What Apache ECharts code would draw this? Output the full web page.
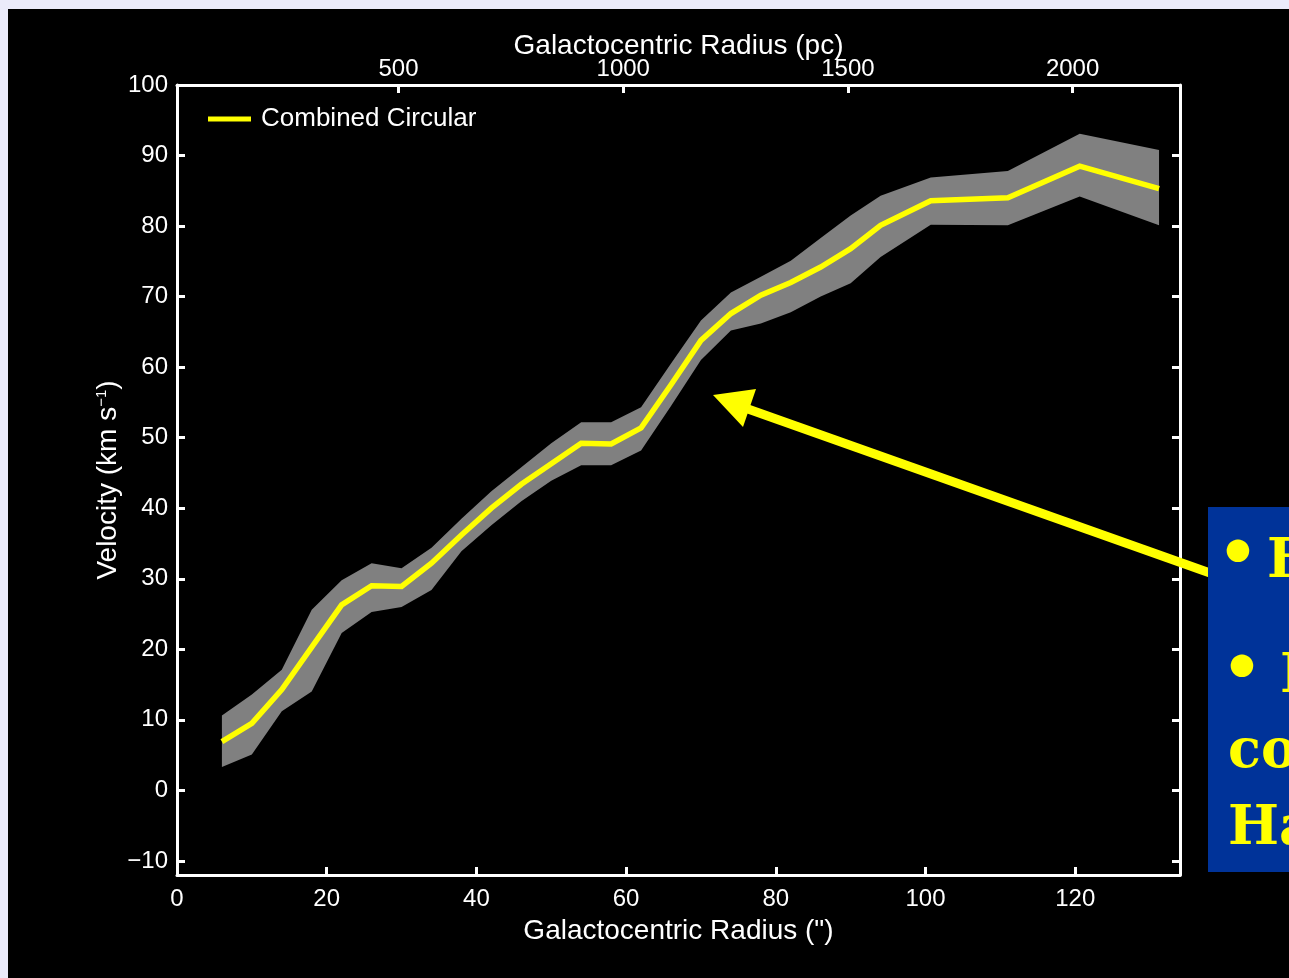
<!DOCTYPE html>
<html>
<head>
<meta charset="utf-8">
<script src="https://cdn.jsdelivr.net/npm/echarts@6/dist/echarts.min.js"></script>
<style>
  html, body { margin: 0; padding: 0; background: #000; }
  #chart { width: 1289px; height: 978px; }
</style>
</head>
<body>
<div id="chart"></div>
<script>
// Rotation curve: galactocentric radius (arcsec) vs circular velocity (km/s)
const radius   = [6, 10, 14, 18, 22, 26, 30, 34, 38, 42, 46, 50, 54, 58, 62, 66, 70, 74, 78, 82, 86, 90, 94, 100.7, 111, 120.6, 131.2];
const velocity = [6.9, 9.5, 14.3, 20.3, 26.3, 29.0, 28.9, 32.2, 36.2, 40.0, 43.4, 46.3, 49.2, 49.1, 51.4, 57.5, 63.8, 67.6, 70.2, 72.0, 74.2, 76.8, 80.1, 83.6, 84.0, 88.5, 85.3];
// Uncertainty envelope
const upper    = [10.6, 13.6, 17.1, 25.6, 29.8, 32.2, 31.5, 34.4, 38.5, 42.4, 45.8, 49.2, 52.2, 52.2, 54.3, 60.5, 66.6, 70.6, 72.8, 75.1, 78.3, 81.5, 84.3, 86.9, 87.8, 93.1, 90.8];
const lower    = [3.3, 5.1, 11.2, 14.0, 22.3, 25.3, 26.0, 28.4, 33.9, 37.6, 41.0, 43.9, 46.1, 46.1, 48.2, 54.5, 61.0, 65.2, 66.2, 67.8, 70.0, 71.9, 75.6, 80.2, 80.1, 84.2, 80.1];

// Tick labels
const arcsecTicks = [0, 20, 40, 60, 80, 100, 120];
const pcTicks = [500, 1000, 1500, 2000];
const velocityTicks = [-10, 0, 10, 20, 30, 40, 50, 60, 70, 80, 90, 100];

// Axis ranges
const X_MIN = 0, X_MAX = 134;
const PC_MIN = 7, PC_MAX = 2239;
const V_MIN = -12, V_MAX = 100;

const FONT = "'Liberation Sans', Arial, Helvetica, sans-serif";
const WHITE = '#ffffff';
const BAND = '#808080';
const CALLOUT_FONT = "bold 54px 'DejaVu Serif', serif";
const BULLET_FONT = "bold 64px 'DejaVu Serif', serif";

const chart = echarts.init(document.getElementById('chart'), null, { renderer: 'canvas' });

const toPairs = (xs, ys) => xs.map((x, i) => [x, ys[i]]);
const bandRows = radius.map((r, i) => [r, upper[i], lower[i]]);

// Envelope drawn as a single closed polygon: upper edge left to right, lower edge back
function renderBand(params, api) {
  if (params.dataIndex !== 0) return null;
  const top = bandRows.map(row => api.coord([row[0], row[1]]));
  const bottom = bandRows.map(row => api.coord([row[0], row[2]])).reverse();
  return {
    type: 'polygon',
    shape: { points: top.concat(bottom) },
    style: { fill: BAND }
  };
}

const axisCommon = {
  axisLine: { show: true, onZero: false, lineStyle: { color: WHITE, width: 3 } },
  splitLine: { show: false },
  nameMoveOverlap: false
};
const tickStyle = { color: WHITE, width: 3 };

const option = {
  backgroundColor: '#000000',
  animation: false,
  textStyle: { fontFamily: FONT, color: WHITE },
  grid: { left: 177, right: 109, top: 85, bottom: 103, containLabel: false },
  legend: {
    data: ['Combined Circular'],
    left: 203,
    top: 101,
    icon: 'rect',
    itemWidth: 43,
    itemHeight: 5,
    textStyle: { color: WHITE, fontSize: 26, fontFamily: FONT, padding: [0, 0, 0, 5] },
    selectedMode: false
  },
  xAxis: [
    Object.assign({}, axisCommon, {
      type: 'value', position: 'bottom', min: X_MIN, max: X_MAX,
      name: 'Galactocentric Radius (")',
      nameLocation: 'middle', nameGap: 42,
      nameTextStyle: { color: WHITE, fontSize: 28, fontFamily: FONT },
      axisTick: { show: true, inside: true, length: 8, lineStyle: tickStyle, customValues: arcsecTicks },
      axisLabel: { color: WHITE, fontSize: 24, fontFamily: FONT, margin: 12, customValues: arcsecTicks }
    }),
    Object.assign({}, axisCommon, {
      type: 'value', position: 'top', min: PC_MIN, max: PC_MAX,
      name: 'Galactocentric Radius (pc)',
      nameLocation: 'middle', nameGap: 25,
      nameTextStyle: { color: WHITE, fontSize: 28, fontFamily: FONT },
      axisTick: { show: true, inside: true, length: 8, lineStyle: tickStyle, customValues: pcTicks },
      axisLabel: { color: WHITE, fontSize: 24, fontFamily: FONT, margin: 4, customValues: pcTicks, formatter: v => String(v) }
    })
  ],
  yAxis: [
    Object.assign({}, axisCommon, {
      type: 'value', position: 'left', min: V_MIN, max: V_MAX,
      name: 'Velocity (km s{sup|\u22121})',
      nameLocation: 'middle', nameGap: 54, nameRotate: 90,
      nameTextStyle: {
        color: WHITE, fontSize: 28, fontFamily: FONT,
        rich: { sup: { fontSize: 15, fontFamily: FONT, color: WHITE, verticalAlign: 'top', padding: [0, 0, 14, 0] } }
      },
      axisTick: { show: true, inside: true, length: 8, lineStyle: tickStyle, customValues: velocityTicks },
      axisLabel: {
        color: WHITE, fontSize: 24, fontFamily: FONT, margin: 9, customValues: velocityTicks,
        formatter: v => (v < 0 ? '\u2212' + Math.abs(v) : String(v))
      }
    }),
    Object.assign({}, axisCommon, {
      type: 'value', position: 'right', min: V_MIN, max: V_MAX,
      axisTick: { show: true, inside: true, length: 8, lineStyle: tickStyle, customValues: velocityTicks },
      axisLabel: { show: false }
    })
  ],
  series: [
    {
      name: 'envelope', type: 'custom', xAxisIndex: 0, yAxisIndex: 0,
      data: bandRows, renderItem: renderBand, silent: true, z: 1,
      encode: { x: 0, y: [1, 2] }
    },
    {
      name: 'Combined Circular', type: 'line', xAxisIndex: 0, yAxisIndex: 0,
      data: toPairs(radius, velocity),
      symbol: 'none', color: '#ffff00',
      lineStyle: { color: '#ffff00', width: 5.5, join: 'miter' }, z: 3
    }
  ],
  graphic: [
    // page frame strips
    { type: 'rect', shape: { x: 0, y: 0, width: 1289, height: 9 }, style: { fill: '#ebebfa' }, z: 100 },
    { type: 'rect', shape: { x: 0, y: 0, width: 8, height: 978 }, style: { fill: '#ebebfa' }, z: 100 },
    // arrow pointing at the steep rise
    { type: 'line', shape: { x1: 1210, y1: 573, x2: 748, y2: 409 }, style: { stroke: '#ffff00', lineWidth: 9 }, z: 50 },
    { type: 'polygon', shape: { points: [[713, 395], [756, 389], [743, 427]] }, style: { fill: '#ffff00' }, z: 50 },
    // callout box
    { type: 'rect', shape: { x: 1208, y: 507, width: 100, height: 365 }, style: { fill: '#003399' }, z: 60 },
    { type: 'text', x: 1238, y: 557, style: { text: '\u2022', fill: '#ffff00', font: BULLET_FONT, align: 'center', verticalAlign: 'middle' }, z: 61 },
    { type: 'text', x: 1267, y: 590, style: { text: 'F', fill: '#ffff00', font: CALLOUT_FONT, verticalAlign: 'bottom' }, z: 61 },
    { type: 'text', x: 1242, y: 672, style: { text: '\u2022', fill: '#ffff00', font: BULLET_FONT, align: 'center', verticalAlign: 'middle' }, z: 61 },
    { type: 'text', x: 1280, y: 705, style: { text: 'I', fill: '#ffff00', font: CALLOUT_FONT, verticalAlign: 'bottom' }, z: 61 },
    { type: 'text', x: 1228, y: 780, style: { text: 'co', fill: '#ffff00', font: CALLOUT_FONT, verticalAlign: 'bottom' }, z: 61 },
    { type: 'text', x: 1228, y: 857, style: { text: 'Ha', fill: '#ffff00', font: CALLOUT_FONT, verticalAlign: 'bottom' }, z: 61 }
  ]
};

chart.setOption(option);
</script>
</body>
</html>
